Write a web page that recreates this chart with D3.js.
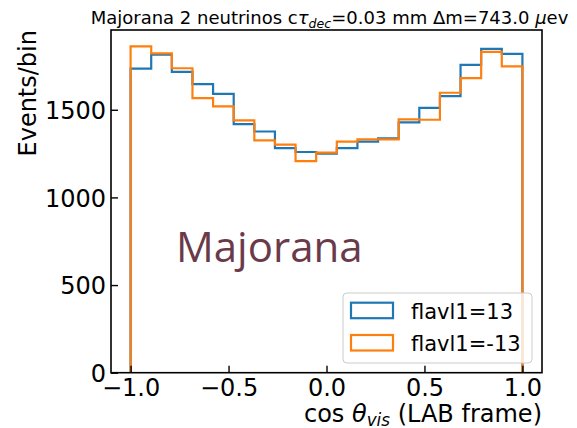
<!DOCTYPE html>
<html>
<head>
<meta charset="utf-8">
<script src="https://cdn.jsdelivr.net/npm/d3@7"></script>
<style>
  html, body { margin: 0; padding: 0; background: #fff; }
  svg { display: block; font-family: "DejaVu Sans", sans-serif; }
</style>
</head>
<body>
<svg id="chart" width="577" height="428"></svg>
<script>
// Histogram of cos(theta_vis) in the LAB frame, 19 equal bins over [-1, 1]
const binLow = -1, binHigh = 1, nBins = 19;
const binEdges = d3.range(nBins + 1).map(i => binLow + (binHigh - binLow) * i / nBins);

const seriesNames = ["flavl1=13", "flavl1=-13"];
const seriesColors = ["#1f77b4", "#ff7f0e"];
const countsPos = [1735, 1815, 1716, 1646, 1591, 1418, 1376, 1281, 1259, 1249,
                   1281, 1318, 1337, 1428, 1511, 1578, 1756, 1847, 1819];
const countsNeg = [1862, 1822, 1737, 1566, 1519, 1439, 1325, 1301, 1207, 1255,
                   1318, 1331, 1331, 1445, 1443, 1597, 1680, 1830, 1748];

const xTicks = [-1.0, -0.5, 0.0, 0.5, 1.0];
const yTicks = [0, 500, 1000, 1500];

const svg = d3.select("#chart");
const plot = { left: 111, right: 542, top: 30, bottom: 372.7 };

const yMax = d3.max([...countsPos, ...countsNeg]) * 1.05;
const x = d3.scaleLinear().domain([-1.1, 1.1]).range([plot.left, plot.right]);
const y = d3.scaleLinear().domain([0, yMax]).range([plot.bottom, plot.top]);

// step outline for a histogram, closed down to zero at both ends
function stepPoints(counts) {
  const pts = [[binEdges[0], 0]];
  counts.forEach((c, i) => {
    pts.push([binEdges[i], c]);
    pts.push([binEdges[i + 1], c]);
  });
  pts.push([binEdges[binEdges.length - 1], 0]);
  return pts;
}
const line = d3.line().x(d => x(d[0])).y(d => y(d[1]));

svg.append("clipPath").attr("id", "plotClip")
  .append("rect")
  .attr("x", plot.left).attr("y", plot.top)
  .attr("width", plot.right - plot.left).attr("height", plot.bottom - plot.top);

const hist = svg.append("g").attr("clip-path", "url(#plotClip)");
[countsPos, countsNeg].forEach((counts, k) => {
  hist.append("path")
    .attr("d", line(stepPoints(counts)))
    .attr("fill", "none")
    .attr("stroke", seriesColors[k])
    .attr("stroke-width", 2.2)
    .attr("stroke-linejoin", "miter");
});

// axes: ticks point inward
const xAxis = d3.axisBottom(x).tickValues(xTicks).tickSizeInner(-7).tickSizeOuter(0)
  .tickPadding(6).tickFormat(d => d3.format(".1f")(d).replace("-", "\u2212"));
const yAxis = d3.axisLeft(y).tickValues(yTicks).tickSizeInner(-7).tickSizeOuter(0)
  .tickPadding(5).tickFormat(d3.format("d"));

const gx = svg.append("g").attr("transform", `translate(0,${plot.bottom})`).call(xAxis);
const gy = svg.append("g").attr("transform", `translate(${plot.left},0)`).call(yAxis);
[gx, gy].forEach(g => {
  g.select(".domain").remove();
  g.selectAll(".tick line").attr("stroke", "#000").attr("stroke-width", 1.4);
  g.selectAll(".tick text").attr("fill", "#000")
    .style("font-family", "DejaVu Sans").style("font-size", "24px");
});
gx.selectAll(".tick text").attr("dy", "0.71em");
gy.selectAll(".tick text").attr("dy", "0.36em");

// frame
svg.append("rect")
  .attr("x", plot.left).attr("y", plot.top)
  .attr("width", plot.right - plot.left).attr("height", plot.bottom - plot.top)
  .attr("fill", "none").attr("stroke", "#000").attr("stroke-width", 1.6);

// title
const title = svg.append("text")
  .attr("x", (plot.left + plot.right) / 2 + 3).attr("y", 24)
  .attr("text-anchor", "middle").style("font-size", "18px").attr("fill", "#000");
title.append("tspan").text("Majorana 2 neutrinos c");
title.append("tspan").attr("font-style", "italic").text("\u03C4");
title.append("tspan").attr("font-style", "italic").attr("font-size", "12.6px").attr("dy", 4).text("dec");
title.append("tspan").attr("dy", -4).text("=0.03 mm \u0394m=743.0 ");
title.append("tspan").attr("font-style", "italic").text("\u03BC");
title.append("tspan").text("ev");

// axis labels
const xl = svg.append("text")
  .attr("x", plot.right).attr("y", 422)
  .attr("text-anchor", "end").style("font-size", "24px").attr("fill", "#000");
xl.append("tspan").text("cos ");
xl.append("tspan").attr("font-style", "italic").text("\u03B8");
xl.append("tspan").attr("font-style", "italic").attr("font-size", "16.8px").attr("dy", 4).text("vis");
xl.append("tspan").attr("dy", -4).text(" (LAB frame)");

svg.append("text")
  .attr("transform", `translate(35.5,${plot.top}) rotate(-90)`)
  .attr("text-anchor", "end").style("font-size", "24px").attr("fill", "#000")
  .text("Events/bin");

// annotation
svg.append("text")
  .attr("x", 176).attr("y", 262)
  .style("font-family", "'Open Sans', sans-serif").style("font-size", "42px")
  .attr("fill", "#6b3a4a")
  .text("Majorana");

// legend
const lg = svg.append("g");
lg.append("rect")
  .attr("x", 343).attr("y", 293).attr("width", 189).attr("height", 70)
  .attr("rx", 4).attr("ry", 4)
  .attr("fill", "#fff").attr("fill-opacity", 0.8)
  .attr("stroke", "#cccccc").attr("stroke-width", 1);
seriesNames.forEach((name, k) => {
  const yy = 302.7 + k * 32.3;
  lg.append("rect")
    .attr("x", 351).attr("y", yy).attr("width", 42).attr("height", 15.5)
    .attr("fill", "none").attr("stroke", seriesColors[k]).attr("stroke-width", 2.2);
  lg.append("text")
    .attr("x", 411).attr("y", yy + 16)
    .style("font-size", "21px").attr("fill", "#000")
    .text(name);
});
</script>
</body>
</html>
